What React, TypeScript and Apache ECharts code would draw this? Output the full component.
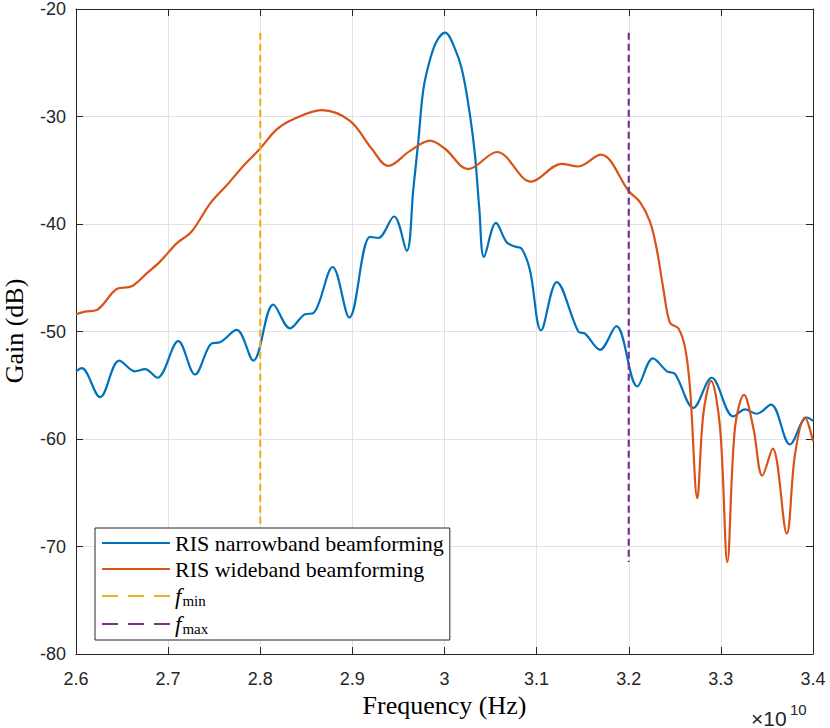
import React, { useEffect, useRef } from "react";
import * as echarts from "echarts";

// Frequency in units of 1e10 Hz, gain in dB
const freqNarrow = [
  2.6, 2.6062, 2.6261, 2.647, 2.664, 2.6749, 2.6883, 2.711, 2.7292, 2.7473, 2.7563,
  2.7744, 2.7925, 2.8142, 2.8323, 2.8486, 2.8576, 2.8786, 2.8967, 2.9191, 2.9281,
  2.9452, 2.959, 2.9662, 2.9716, 2.977, 2.9843, 2.9915, 3.0005, 3.0132, 3.0204,
  3.0277, 3.0331, 3.0378, 3.0429, 3.0559, 3.0675, 3.0765, 3.0838, 3.0928, 3.1048,
  3.1218, 3.1452, 3.1525, 3.1688, 3.1865, 3.2093, 3.2263, 3.2415, 3.2502, 3.2701,
  3.29, 3.3135, 3.3262, 3.3389, 3.3544, 3.375, 3.3932, 3.4,
];
const gainNarrow = [
  -53.7, -53.4, -56.1, -52.7, -53.7, -53.5, -54.3, -50.9, -54.0, -51.1, -51.0,
  -49.85, -52.7, -47.5, -49.7, -48.4, -48.3, -44.0, -48.7, -41.2, -41.3,
  -39.3, -42.5, -36.7, -32.3, -27.5, -24.7, -23.0, -22.2, -24.1, -26.2,
  -29.9, -33.6, -38.6, -43.05, -39.9, -41.7, -42.1, -42.3, -44.3, -49.9,
  -45.4, -50.0, -50.2, -51.7, -49.5, -55.1, -52.5, -53.7, -53.95, -57.1,
  -54.3, -57.9, -57.25, -57.65, -56.8, -60.5, -58.0, -58.3,
];
const freqWide = [
  2.6, 2.6098, 2.6225, 2.6442, 2.6605, 2.6767, 2.6912, 2.7093, 2.7256, 2.7455,
  2.7636, 2.7816, 2.7997, 2.8179, 2.8359, 2.8667, 2.8974, 2.921, 2.939, 2.9626,
  2.9843, 3.0005, 3.0258, 3.057, 3.0939, 3.1272, 3.1452, 3.1696, 3.2006, 3.2122,
  3.2231, 3.2303, 3.2375, 3.2448, 3.2538, 3.2611, 3.2665, 3.2744, 3.2809, 3.2893,
  3.2991, 3.307, 3.3153, 3.3251, 3.3352, 3.345, 3.3563, 3.3715, 3.3805, 3.3913, 3.4,
];
const gainWide = [
  -48.4, -48.15, -48.0, -46.05, -45.8, -44.6, -43.5, -41.8, -40.7, -38.1,
  -36.4, -34.6, -33.0, -31.2, -30.25, -29.4, -30.4, -33.0, -34.6, -33.2,
  -32.25, -33.0, -34.9, -33.3, -36.05, -34.4, -34.65, -33.55, -37.0, -37.96,
  -39.8, -42.3, -46.0, -49.2, -49.7, -51.5, -55.25, -65.5, -57.7, -54.6,
  -58.95, -71.45, -58.95, -55.9, -58.95, -63.4, -60.9, -68.8, -61.4, -58.0, -60.2,
];
const F_MIN = 2.8;
const F_MAX = 3.2;
const X_MIN = 2.6;
const X_MAX = 3.4;
const X_STEP = 0.1;
const Y_MIN = -80;
const Y_MAX = -20;
const Y_STEP = 10;

const NAME_NB = "RIS narrowband beamforming";
const NAME_WB = "RIS wideband beamforming";
const NAME_FMIN = "f_min";
const NAME_FMAX = "f_max";

const C_NB = "#0072BD";
const C_WB = "#D95319";
const C_FMIN = "#EDB120";
const C_FMAX = "#7E2F8E";

const SERIF = "'Liberation Serif', 'Times New Roman', serif";
const SANS = "'Liberation Sans', Arial, Helvetica, sans-serif";
const AXIS_COLOR = "#262626";
const GRID_COLOR = "#e2e2e2";

export default function App() {
  const ref = useRef<HTMLDivElement>(null);

  useEffect(() => {
    if (!ref.current) return;
    const chart = echarts.init(ref.current, null, { renderer: "svg" });
    const all = [...gainNarrow, ...gainWide];
    const yTop = Math.max(...all);
    const yBot = Math.min(...all);

    const baseAxisLine = { show: true, onZero: false, lineStyle: { color: AXIS_COLOR, width: 1 } };
    const baseTick = { show: true, inside: true, length: 7, lineStyle: { color: AXIS_COLOR, width: 1 } };

    const option: any = {
      animation: false,
      backgroundColor: "#ffffff",
      grid: { left: 76, right: 17, top: 6, bottom: 74, containLabel: false },
      xAxis: [
        {
          type: "value",
          min: X_MIN,
          max: X_MAX,
          interval: X_STEP,
          position: "bottom",
          axisLine: baseAxisLine,
          axisTick: baseTick,
          axisLabel: {
            color: AXIS_COLOR,
            fontSize: 18,
            fontFamily: SANS,
            margin: 16,
            formatter: (v: number) => String(Number(v.toFixed(2))),
          },
          splitLine: { show: true, lineStyle: { color: GRID_COLOR, width: 1 } },
          name: "Frequency (Hz)",
          nameLocation: "middle",
          nameGap: 38,
          nameTextStyle: { fontFamily: SERIF, fontSize: 26, color: "#000" },
        },
        {
          type: "value",
          min: X_MIN,
          max: X_MAX,
          interval: X_STEP,
          position: "top",
          axisLine: baseAxisLine,
          axisTick: baseTick,
          axisLabel: { show: false },
          splitLine: { show: false },
        },
      ],
      yAxis: [
        {
          type: "value",
          min: Y_MIN,
          max: Y_MAX,
          interval: Y_STEP,
          position: "left",
          axisLine: baseAxisLine,
          axisTick: baseTick,
          axisLabel: { color: AXIS_COLOR, fontSize: 18, fontFamily: SANS, margin: 10 },
          splitLine: { show: true, lineStyle: { color: GRID_COLOR, width: 1 } },
        },
        {
          type: "value",
          min: Y_MIN,
          max: Y_MAX,
          interval: Y_STEP,
          position: "right",
          axisLine: baseAxisLine,
          axisTick: baseTick,
          axisLabel: { show: false },
          splitLine: { show: false },
        },
      ],
      legend: {
        orient: "vertical",
        left: 95,
        top: 528,
        itemWidth: 68,
        itemHeight: 14,
        itemGap: 4,
        padding: [4, 6, 4, 6],
        borderColor: AXIS_COLOR,
        borderWidth: 1,
        borderRadius: 0,
        backgroundColor: "#ffffff",
        itemStyle: { opacity: 0 },
        data: [
          { name: NAME_NB },
          { name: NAME_WB },
          { name: NAME_FMIN, lineStyle: { type: [16, 10] } },
          { name: NAME_FMAX, lineStyle: { type: [16, 10] } },
        ],
        formatter: (name: string) => {
          if (name === NAME_FMIN) return "{f|f}{s|min}";
          if (name === NAME_FMAX) return "{f|f}{s|max}";
          return name;
        },
        textStyle: {
          fontFamily: SERIF,
          fontSize: 22,
          color: "#000",
          lineHeight: 22,
          rich: {
            f: { fontFamily: SERIF, fontSize: 23, fontStyle: "italic", color: "#000", lineHeight: 22 },
            s: { fontFamily: SERIF, fontSize: 15, color: "#000", lineHeight: 22, padding: [9, 0, 0, 1] },
          },
        },
      },
      graphic: [
        {
          type: "text",
          x: 14,
          y: 331,
          rotation: Math.PI / 2,
          style: {
            text: "Gain (dB)",
            fontFamily: SERIF,
            fontSize: 26,
            fill: "#000",
            align: "center",
            verticalAlign: "middle",
          },
        },
        {
          type: "text",
          x: 751,
          y: 718,
          style: { text: "×10", fontFamily: SANS, fontSize: 21, fill: AXIS_COLOR, align: "left", verticalAlign: "middle" },
        },
        {
          type: "text",
          x: 790,
          y: 709,
          style: { text: "10", fontFamily: SANS, fontSize: 15, fill: AXIS_COLOR, align: "left", verticalAlign: "middle" },
        },
      ],
      series: [
        {
          type: "line",
          name: NAME_NB,
          data: freqNarrow.map((f, i) => [f, gainNarrow[i]]),
          showSymbol: false,
          symbol: "none",
          smooth: 0.35,
          lineStyle: { color: C_NB, width: 2.2 },
          itemStyle: { color: C_NB },
        },
        {
          type: "line",
          name: NAME_WB,
          data: freqWide.map((f, i) => [f, gainWide[i]]),
          showSymbol: false,
          symbol: "none",
          smooth: 0.35,
          lineStyle: { color: C_WB, width: 2.2 },
          itemStyle: { color: C_WB },
        },
        {
          type: "line",
          name: NAME_FMIN,
          data: [
            [F_MIN, yTop],
            [F_MIN, yBot],
          ],
          showSymbol: false,
          symbol: "none",
          lineStyle: { color: C_FMIN, width: 2.2, type: [7, 4] },
          itemStyle: { color: C_FMIN },
        },
        {
          type: "line",
          name: NAME_FMAX,
          data: [
            [F_MAX, yTop],
            [F_MAX, yBot],
          ],
          showSymbol: false,
          symbol: "none",
          lineStyle: { color: C_FMAX, width: 2.2, type: [7, 4] },
          itemStyle: { color: C_FMAX },
        },
      ],
    };
    chart.setOption(option);
    return () => chart.dispose();
  }, []);

  return (
    <div
      ref={ref}
      style={{ position: "fixed", left: 0, top: 0, width: 830, height: 728, background: "#fff" }}
    />
  );
}
